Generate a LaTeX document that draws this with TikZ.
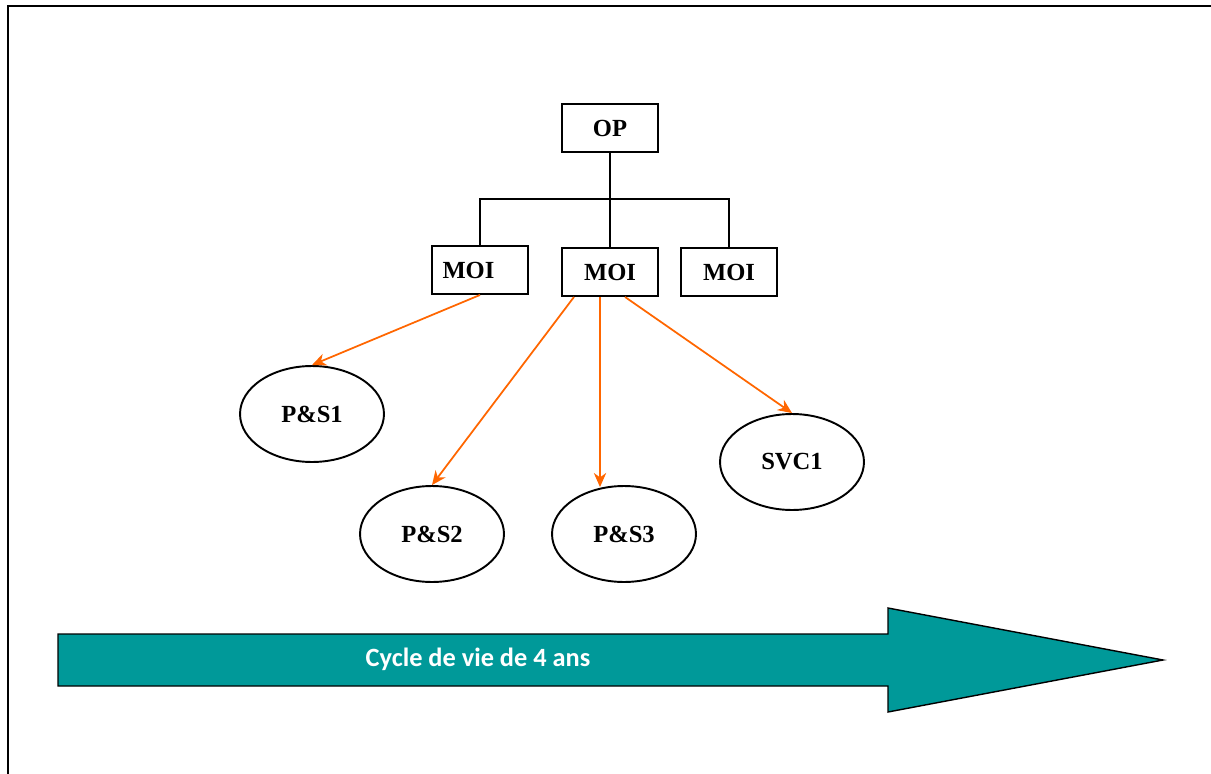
\documentclass[tikz,border=0pt]{standalone}
\usepackage{fontspec}
\setmainfont{Liberation Serif}
\newfontfamily\calfont{Carlito}
\usetikzlibrary{calc}
\usetikzlibrary{shapes.geometric}
\usetikzlibrary{arrows.meta}
\definecolor{orangefl}{HTML}{FF6600}
\definecolor{tealfl}{HTML}{009999}

\begin{document}
\begin{tikzpicture}[>={Stealth[length=8pt,width=7pt,inset=2.5pt]},x=0.02cm,y=-0.02cm,
    boite/.style={draw,line width=1.1pt,minimum width=1.92cm,minimum height=0.96cm,font=\bfseries\fontsize{14}{16}\selectfont},
    bulle/.style={draw,ellipse,line width=1.1pt,minimum width=2.88cm,minimum height=1.92cm,font=\bfseries\fontsize{14}{16}\selectfont},
    fleche/.style={->,orangefl,line width=1pt}]
    \useasboundingbox (0,0) rectangle (1211,774);
    \draw[line width=1.6pt] (8,774) -- (8,6) -- (1211,6);
    % boites
    \node[boite] (op) at (610,128) {OP};
    \node[boite,text width=1.5cm] (moia) at (480,270) {MOI};
    \node[boite] (moib) at (610,272) {MOI};
    \node[boite] (moic) at (729,272) {MOI};
    \draw[line width=1.1pt] (op.south) -- (610,199);
    \draw[line width=1.1pt] (moia.north) |- (610,199) -| (moic.north);
    \draw[line width=1.1pt] (610,199) -- (moib.north);
    % bulles
    \node[bulle] (ps1) at (312,414) {P\&S1};
    \node[bulle] (ps2) at (432,534) {P\&S2};
    \node[bulle] (ps3) at (624,534) {P\&S3};
    \node[bulle] (svc) at (792,462) {SVC1};
    \draw[fleche] (moia.south) -- (ps1.north);
    \draw[fleche] ($(moib.south)+(-36,0)$) -- (ps2.north);
    \draw[fleche] ($(moib.south)+(-10,0)$) -- ($(ps3.north)+(-24,2)$);
    \draw[fleche] ($(moib.south)+(15,0)$) -- (svc.north);
    % grande fleche
    \draw[fill=tealfl,line width=0.8pt] (58,634) -- (888,634) -- (888,608) -- (1163,660)
        -- (888,712) -- (888,686) -- (58,686) -- cycle;
    \node[text=white,font=\calfont\bfseries\fontsize{15}{18}\selectfont] (cycle) at (478,659) {Cycle de vie de 4 ans};
\end{tikzpicture}
\end{document}
